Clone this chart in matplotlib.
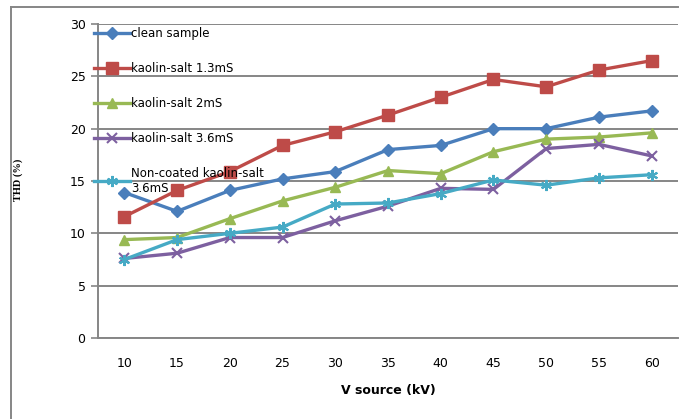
import matplotlib
matplotlib.use("Agg")
import matplotlib.pyplot as plt
from matplotlib.lines import Line2D

voltages = [10, 15, 20, 25, 30, 35, 40, 45, 50, 55, 60]
clean_sample = [13.9, 12.1, 14.1, 15.2, 15.9, 18.0, 18.4, 20.0, 20.0, 21.1, 21.7]
kaolin_13 = [11.6, 14.1, 15.9, 18.4, 19.7, 21.3, 23.0, 24.7, 24.0, 25.6, 26.5]
kaolin_2 = [9.4, 9.6, 11.4, 13.1, 14.4, 16.0, 15.7, 17.8, 19.0, 19.2, 19.6]
kaolin_36 = [7.6, 8.1, 9.6, 9.6, 11.2, 12.6, 14.3, 14.2, 18.1, 18.5, 17.4]
noncoated_36 = [7.5, 9.4, 10.0, 10.6, 12.8, 12.9, 13.8, 15.1, 14.6, 15.3, 15.6]

labels = ["clean sample", "kaolin-salt 1.3mS", "kaolin-salt 2mS",
          "kaolin-salt 3.6mS", "Non-coated kaolin-salt\n3.6mS"]
series = [clean_sample, kaolin_13, kaolin_2, kaolin_36, noncoated_36]
colors = ["#4A7EBB", "#BE4B48", "#98B954", "#7D60A0", "#46AAC5"]
markers = ["D", "s", "^", "x", (6, 2, 0)]
msizes = [6, 8, 7.5, 7, 8]

plt.rcParams['font.family'] = ['DejaVu Sans']

fig = plt.figure(figsize=(6.83, 4.19), dpi=100)
ax = fig.add_axes([0.1435, 0.1933, 0.9927 - 0.1435, 0.9427 - 0.1933])

x = list(range(len(voltages)))
for vals, lab, c, m, ms in zip(series, labels, colors, markers, msizes):
    ax.plot(x, vals, color=c, lw=2.4, marker=m, markersize=ms,
            markeredgewidth=1.5 if m in ("x", (6, 2, 0)) else 1.0,
            markerfacecolor=c, markeredgecolor=c, label=lab, zorder=3)

ax.set_xlim(-0.5, len(voltages) - 0.5)
ax.set_ylim(0, 30)
ax.set_yticks([0, 5, 10, 15, 20, 25, 30])
ax.set_xticks(x)
ax.set_xticklabels([str(v) for v in voltages])
ax.grid(axis='y', color='#868686', lw=1.4, zorder=0)
ax.set_axisbelow(True)
for s in ['top', 'right']:
    ax.spines[s].set_visible(False)
for s in ['left', 'bottom']:
    ax.spines[s].set_color('#868686')
    ax.spines[s].set_linewidth(1.4)
ax.tick_params(axis='y', length=5, width=1.2, color='#868686', labelsize=9, pad=4)
ax.tick_params(axis='x', length=0, labelsize=9, pad=14)

ax.set_xlabel("V source (kV)", fontsize=9, fontweight='bold', labelpad=10)
fig.text(0.027, 0.57, "THD (%)", rotation=90, fontsize=7.5, fontweight='bold',
         family='Liberation Serif', ha='center', va='center')

leg = ax.legend(loc='upper left', bbox_to_anchor=(0.138, 0.935),
                bbox_transform=fig.transFigure, frameon=False, fontsize=8.5,
                handlelength=3.0, handletextpad=0.1, labelspacing=1.85,
                borderpad=0, borderaxespad=0)

# outer frame (left and top)
fig.add_artist(Line2D([0.016, 0.016], [0.0, 0.983], color='#868686', lw=1.4,
                      transform=fig.transFigure))
fig.add_artist(Line2D([0.016, 0.993], [0.983, 0.983], color='#868686', lw=1.4,
                      transform=fig.transFigure))

fig.savefig("out.png", dpi=100)
